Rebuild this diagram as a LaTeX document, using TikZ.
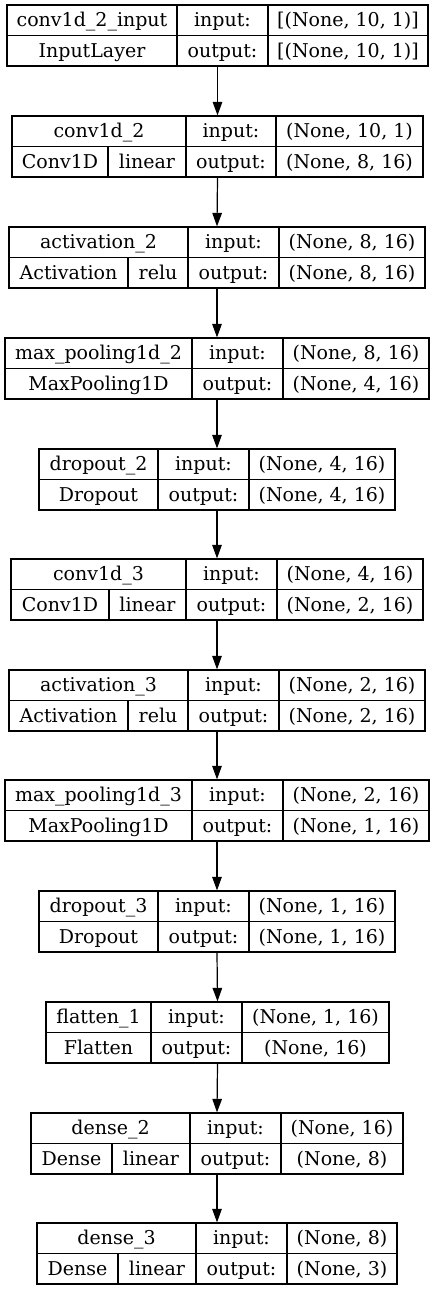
\documentclass[tikz,border=0pt]{standalone}
\usepackage{fontspec}
\setmainfont{DejaVu Serif}
\usetikzlibrary{fit,arrows.meta}
\tikzset{
  kframe/.style={draw=black, line width=1.2pt, inner sep=0pt},
  kline/.style={draw=black, line width=1.2pt},
  ktext/.style={inner sep=0pt, anchor=base, font=\fontsize{19}{21}\selectfont},
  karrow/.style={draw=black, line width=1.2pt, -{Triangle[length=13.5pt,width=9.5pt]}},
}
\newcommand\kbox[9]{%
  \xdef\kL{#3}\xdef\kD{#4}\xdef\kT{#2}%
  \node[kframe, fit={(#3,#2) (#6,{#2+61})}] (#1) {};
  \draw[kline] (#3,{#2+30.5}) -- (#6,{#2+30.5});
  \draw[kline] (#4,#2) -- (#4,{#2+61});
  \draw[kline] (#5,#2) -- (#5,{#2+61});
  \node[ktext] (#1-name) at ({(#3+#4)/2},{#2+21.5}) {#7};
  \node[ktext] (#1-in) at ({(#4+#5)/2},{#2+21.5}) {input:};
  \node[ktext] (#1-out) at ({(#4+#5)/2},{#2+52.5}) {output:};
  \node[ktext] (#1-ins) at ({(#5+#6)/2},{#2+21.5}) {#8};
  \node[ktext] (#1-outs) at ({(#5+#6)/2},{#2+52.5}) {#9};
}
\newcommand\kcls[2]{%
  \node[ktext] (#1-cls) at ({(\kL+\kD)/2},{\kT+52.5}) {#2};
}
\newcommand\kact[4]{%
  \draw[kline] (#2,{\kT+30.5}) -- (#2,{\kT+61});
  \node[ktext] (#1-cls) at ({(\kL+#2)/2},{\kT+52.5}) {#3};
  \node[ktext] (#1-act) at ({(#2+\kD)/2},{\kT+52.5}) {#4};
}
\begin{document}
\begin{tikzpicture}[x=1pt,y=-1pt]
\useasboundingbox[fill=white] (0,0) rectangle (435,1291);
\kbox{b1}{5}{7}{177}{268}{428}{conv1d\_2\_input}{[(None, 10, 1)]}{[(None, 10, 1)]}
\kcls{b1}{InputLayer}
\kbox{b2}{116}{12}{186}{276}{423}{conv1d\_2}{(None, 10, 1)}{(None, 8, 16)}
\kact{b2}{108}{Conv1D}{linear}
\kbox{b3}{227}{9}{188}{279}{425}{activation\_2}{(None, 8, 16)}{(None, 8, 16)}
\kact{b3}{128}{Activation}{relu}
\kbox{b4}{338}{5}{192}{283}{429}{max\_pooling1d\_2}{(None, 8, 16)}{(None, 4, 16)}
\kcls{b4}{MaxPooling1D}
\kbox{b5}{449}{39}{158}{249}{395}{dropout\_2}{(None, 4, 16)}{(None, 4, 16)}
\kcls{b5}{Dropout}
\kbox{b6}{559}{11}{186}{277}{423}{conv1d\_3}{(None, 4, 16)}{(None, 2, 16)}
\kact{b6}{109}{Conv1D}{linear}
\kbox{b7}{670}{9}{188}{279}{425}{activation\_3}{(None, 2, 16)}{(None, 2, 16)}
\kact{b7}{128}{Activation}{relu}
\kbox{b8}{780}{5}{192}{283}{429}{max\_pooling1d\_3}{(None, 2, 16)}{(None, 1, 16)}
\kcls{b8}{MaxPooling1D}
\kbox{b9}{891}{39}{158}{249}{395}{dropout\_3}{(None, 1, 16)}{(None, 1, 16)}
\kcls{b9}{Dropout}
\kbox{b10}{1002}{46}{151}{242}{389}{flatten\_1}{(None, 1, 16)}{(None, 16)}
\kcls{b10}{Flatten}
\kbox{b11}{1113}{31}{190}{281}{403}{dense\_2}{(None, 16)}{(None, 8)}
\kact{b11}{112}{Dense}{linear}
\kbox{b12}{1223}{37}{196}{287}{397}{dense\_3}{(None, 8)}{(None, 3)}
\kact{b12}{118}{Dense}{linear}
\foreach \a/\b in {b1/b2,b2/b3,b3/b4,b4/b5,b5/b6,b6/b7,b7/b8,b8/b9,b9/b10,b10/b11,b11/b12}
  \draw[karrow] (\a.south) -- (\b.north);
\end{tikzpicture}
\end{document}
